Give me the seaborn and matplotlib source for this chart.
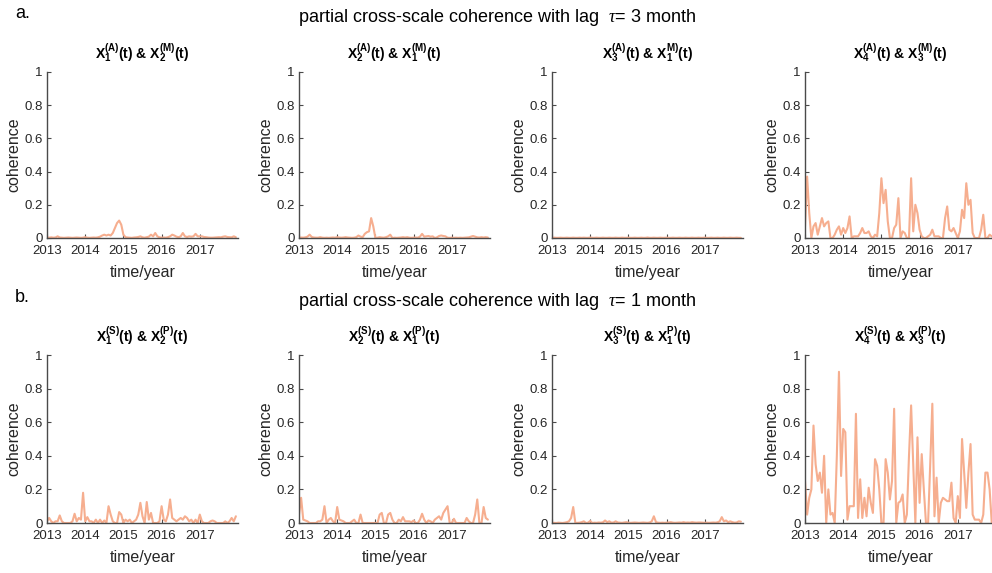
import numpy as np
import pandas as pd
import matplotlib
matplotlib.use("Agg")
import matplotlib.pyplot as plt
import seaborn as sns

# ---------------- data ----------------
start_year = 2013
steps_per_year = 18
n_points = 90

a1 = [0.003, 0.002, 0.004, 0.002, 0.003,
      0.01,
      0.003, 0.002, 0.001, 0.002, 0.003, 0.002, 0.001, 0.002, 0.003, 0.002, 0.001, 0.002,
      0.005,
      0.002, 0.001, 0.002, 0.003, 0.002, 0.004, 0.008,
      0.015, 0.02, 0.015, 0.02, 0.015, 0.03, 0.06, 0.09, 0.105, 0.08, 0.02, 0.005,
      0.003, 0.002, 0.001, 0.003, 0.004, 0.006, 0.01, 0.004, 0.002, 0.005, 0.008,
      0.02, 0.01, 0.03, 0.01, 0.004, 0.002, 0.003, 0.002,
      0.005, 0.01, 0.02, 0.015, 0.008, 0.005, 0.01,
      0.03, 0.01, 0.006, 0.01, 0.008, 0.01, 0.025, 0.01, 0.01, 0.01, 0.006, 0.005,
      0.003, 0.002, 0.002, 0.003, 0.004, 0.005, 0.004, 0.008, 0.01, 0.006, 0.005, 0.004, 0.01, 0.005]

a2 = [0.002, 0.003, 0.002, 0.004, 0.008,
      0.02,
      0.006, 0.003, 0.002, 0.002,
      0.005,
      0.002, 0.001, 0.002, 0.001, 0.002, 0.003, 0.002,
      0.005,
      0.003, 0.002, 0.003, 0.005, 0.003, 0.002, 0.001, 0.002,
      0.005, 0.015, 0.008, 0.005, 0.025, 0.035, 0.04, 0.12, 0.07, 0.0, 0.002,
      0.005, 0.003, 0.002, 0.005, 0.01, 0.02, 0.0, 0.002, 0.001, 0.002, 0.003,
      0.005, 0.003, 0.005, 0.002, 0.001, 0.002, 0.003, 0.002, 0.008,
      0.025, 0.008, 0.01, 0.012, 0.008, 0.01, 0.0, 0.004, 0.012, 0.015, 0.012, 0.01, 0.002,
      0.001, 0.002, 0.001, 0.002, 0.001, 0.002, 0.001, 0.002, 0.003, 0.004, 0.008, 0.012,
      0.008, 0.004, 0.003, 0.005, 0.003, 0.005, 0.003]

a3 = [0.001, 0.002, 0.001, 0.001, 0.002, 0.001, 0.001, 0.002, 0.001, 0.001,
      0.002, 0.001, 0.001, 0.002, 0.001, 0.002, 0.001, 0.001, 0.003, 0.001,
      0.001, 0.002, 0.001, 0.001, 0.002, 0.001, 0.001, 0.002, 0.001, 0.001,
      0.002, 0.001, 0.001, 0.002, 0.001, 0.001, 0.002, 0.001, 0.001, 0.002,
      0.001, 0.001, 0.002, 0.001, 0.001, 0.003, 0.001, 0.001, 0.002, 0.001,
      0.001, 0.002, 0.001, 0.001, 0.002, 0.001, 0.001, 0.002, 0.001, 0.001,
      0.002, 0.001, 0.001, 0.002, 0.001, 0.001, 0.002, 0.001, 0.001, 0.002,
      0.001, 0.001, 0.002, 0.001, 0.001, 0.002, 0.001, 0.001, 0.002, 0.001,
      0.001, 0.002, 0.001, 0.001, 0.002, 0.001, 0.001, 0.002, 0.001, 0.001]

a4 = [0.07, 0.37, 0.15, 0.0, 0.07, 0.09, 0.02, 0.07, 0.12, 0.07, 0.09, 0.1,
      0.0, 0.0, 0.02, 0.05, 0.07, 0.02, 0.06, 0.03, 0.06, 0.13, 0.0, 0.01,
      0.01, 0.01, 0.03, 0.06, 0.03, 0.03, 0.04, 0.01, 0.0, 0.02, 0.01, 0.15,
      0.36, 0.21, 0.29, 0.1, 0.0, 0.0, 0.06, 0.08, 0.24, 0.0, 0.04, 0.03,
      0.0, 0.0, 0.36, 0.04, 0.2, 0.15, 0.05, 0.01, 0.0, 0.0, 0.01, 0.02,
      0.05, 0.01, 0.01, 0.01, 0.0, 0.0, 0.12, 0.19, 0.05, 0.04, 0.06, 0.03,
      0.0, 0.04, 0.17, 0.12, 0.33, 0.2, 0.23, 0.03, 0.0, 0.0, 0.0, 0.05,
      0.14, 0.0, 0.0, 0.02, 0.01, 0.0]

b1 = [0.01, 0.03, 0.01, 0.0, 0.01, 0.01, 0.045, 0.01, 0.0, 0.0, 0.0, 0.0,
      0.01, 0.055, 0.01, 0.03, 0.02, 0.18, 0.01, 0.035, 0.01, 0.01, 0.0, 0.02,
      0.0, 0.02, 0.0, 0.015, 0.0, 0.1, 0.05, 0.01, 0.0, 0.0, 0.065, 0.05,
      0.0, 0.02, 0.01, 0.02, 0.0, 0.01, 0.02, 0.05, 0.12, 0.04, 0.0, 0.125,
      0.02, 0.06, 0.0, 0.0, 0.0, 0.01, 0.1, 0.02, 0.01, 0.05, 0.14, 0.03,
      0.02, 0.01, 0.02, 0.03, 0.02, 0.04, 0.03, 0.01, 0.02, 0.0, 0.02, 0.0,
      0.05, 0.01, 0.0, 0.0, 0.0, 0.01, 0.015, 0.01, 0.0, 0.0, 0.0, 0.0,
      0.01, 0.0, 0.01, 0.03, 0.01, 0.04]

b2 = [0.05, 0.15, 0.02, 0.015, 0.01, 0.0, 0.0, 0.0, 0.0, 0.01, 0.01, 0.02,
      0.1, 0.0, 0.02, 0.03, 0.01, 0.0, 0.095, 0.02, 0.015, 0.01, 0.0, 0.0,
      0.0, 0.01, 0.02, 0.0, 0.0, 0.05, 0.0, 0.0, 0.0, 0.0, 0.0, 0.0,
      0.0, 0.0, 0.05, 0.06, 0.0, 0.0, 0.05, 0.06, 0.02, 0.0, 0.0, 0.02,
      0.01, 0.035, 0.01, 0.01, 0.01, 0.005, 0.015, 0.0, 0.0, 0.02, 0.055, 0.02,
      0.0, 0.015, 0.01, 0.0, 0.02, 0.03, 0.04, 0.02, 0.06, 0.08, 0.1, 0.0,
      0.0, 0.025, 0.0, 0.0, 0.0, 0.0, 0.0, 0.03, 0.01, 0.0, 0.0, 0.05,
      0.14, 0.0, 0.0, 0.095, 0.03, 0.02]

b3 = [0.0, 0.001, 0.0, 0.002, 0.001, 0.0, 0.002,
      0.005, 0.01, 0.03, 0.095, 0.0,
      0.001, 0.002, 0.005, 0.01, 0.0, 0.002, 0.012, 0.0, 0.002, 0.001, 0.003, 0.002,
      0.004, 0.015, 0.005, 0.01, 0.002, 0.003, 0.01, 0.003, 0.002, 0.001, 0.003, 0.005,
      0.002, 0.001, 0.002, 0.003, 0.002, 0.001, 0.002, 0.003, 0.002, 0.001, 0.003, 0.01,
      0.04, 0.005, 0.002, 0.001, 0.002, 0.001, 0.002, 0.003, 0.005, 0.002, 0.001, 0.002,
      0.003, 0.002, 0.005, 0.002, 0.003, 0.002, 0.005, 0.003, 0.002, 0.003, 0.003, 0.002,
      0.001, 0.002, 0.001, 0.002, 0.003, 0.002, 0.004, 0.01, 0.035, 0.01, 0.015, 0.005,
      0.01, 0.005, 0.002, 0.003, 0.01, 0.008]

b4 = [0.25, 0.05, 0.15, 0.2, 0.58, 0.35, 0.25, 0.3, 0.18, 0.4, 0.0, 0.2,
      0.05, 0.06, 0.0, 0.4, 0.9, 0.28, 0.56, 0.54, 0.02, 0.1, 0.1, 0.1,
      0.65, 0.03, 0.26, 0.03, 0.15, 0.04, 0.21, 0.12, 0.06, 0.38, 0.34, 0.2,
      0.0, 0.0, 0.38, 0.3, 0.14, 0.25, 0.68, 0.0, 0.12, 0.13, 0.17, 0.0,
      0.05, 0.4, 0.7, 0.35, 0.0, 0.51, 0.12, 0.41, 0.2, 0.0, 0.0, 0.35,
      0.71, 0.04, 0.27, 0.0, 0.12, 0.15, 0.14, 0.13, 0.13, 0.24, 0.03, 0.0,
      0.16, 0.03, 0.5, 0.3, 0.09, 0.3, 0.47, 0.05, 0.02, 0.02, 0.02, 0.0,
      0.05, 0.3, 0.3, 0.2, 0.0, 0.02]


def term(sub, sup):
    return r'$\mathbf{X}_{\mathbf{%s}}^{\mathbf{%s}}$(t)' % (sub, sup)


titles_a = [term('1', '(A)') + ' & ' + term('2', '(M)'),
            term('2', '(A)') + ' & ' + term('1', '(M)'),
            term('3', '(A)') + ' & ' + term('1', 'M)'),
            term('4', '(A)') + ' & ' + term('3', '(M)')]
titles_b = [term('1', '(S)') + ' & ' + term('2', '(P)'),
            term('2', '(S)') + ' & ' + term('1', '(P)'),
            term('3', '(S)') + ' & ' + term('1', 'P)'),
            term('4', '(S)') + ' & ' + term('3', '(P)')]
row_titles = [r'partial cross-scale coherence with lag  $\tau$= 3 month',
              r'partial cross-scale coherence with lag  $\tau$= 1 month']
row_letters = ['a.', 'b.']
year_ticks = [2013, 2014, 2015, 2016, 2017]
y_ticks = [0, 0.2, 0.4, 0.6, 0.8, 1]
y_ticklabels = ['0', '0.2', '0.4', '0.6', '0.8', '1']

# ---------------- style ----------------
sns.set_style("ticks")
plt.rcParams['font.family'] = ['Liberation Sans', 'DejaVu Sans']
plt.rcParams['mathtext.fontset'] = 'custom'
plt.rcParams['mathtext.rm'] = 'Liberation Sans'
plt.rcParams['mathtext.bf'] = 'Liberation Sans:bold'
plt.rcParams['mathtext.it'] = 'Liberation Serif:italic'

W, H = 992, 573
fig = plt.figure(figsize=(W / 100, H / 100), dpi=100)

time = start_year + np.arange(n_points) / steps_per_year
line_color = '#F6AE8F'
axis_color = '#4a4a4a'
text_color = '#262626'

lefts = [47, 299, 552, 805]
ax_w = 191
rows = [(72, 238), (355, 523)]
series = [[a1, a2, a3, a4], [b1, b2, b3, b4]]
titles = [titles_a, titles_b]

for r, (top, bottom) in enumerate(rows):
    for c, left in enumerate(lefts):
        ax = fig.add_axes([left / W, 1 - bottom / H, ax_w / W, (bottom - top) / H])
        df = pd.DataFrame({'time': time, 'coherence': series[r][c]})
        sns.lineplot(data=df, x='time', y='coherence', ax=ax,
                     color=line_color, linewidth=1.5)
        ax.set_xlim(2013, 2018)
        ax.set_ylim(0, 1)
        ax.set_xticks(year_ticks)
        ax.set_xticklabels([str(y) for y in year_ticks])
        ax.set_yticks(y_ticks)
        ax.set_yticklabels(y_ticklabels)
        for s in ['top', 'right']:
            ax.spines[s].set_visible(False)
        for s in ['left', 'bottom']:
            ax.spines[s].set_color(axis_color)
            ax.spines[s].set_linewidth(1.0)
        ax.tick_params(direction='in', length=3, width=0.8, colors=axis_color,
                       labelcolor=text_color, labelsize=9.5)
        ax.tick_params(axis='x', pad=5)
        ax.tick_params(axis='y', pad=3)
        ax.set_xlabel('time/year', fontsize=11.5, color=text_color)
        ax.set_ylabel('coherence', fontsize=11.5, color=text_color)
        ax.xaxis.set_label_coords(0.5, -0.16)
        ax.yaxis.set_label_coords(-0.135, 0.5)
        ax.set_title(titles[r][c], fontsize=10, pad=9, color='black',
                     fontweight='bold')

row_title_y = [17, 302]
letter_y = [14, 297]
for r in range(2):
    fig.text(0.501, 1 - row_title_y[r] / H, row_titles[r], ha='center', va='center',
             fontsize=13, color='black')
    fig.text(15 / W, 1 - letter_y[r] / H, row_letters[r], ha='left', va='center',
             fontsize=13, color='black')

fig.savefig('out.png', dpi=100)
